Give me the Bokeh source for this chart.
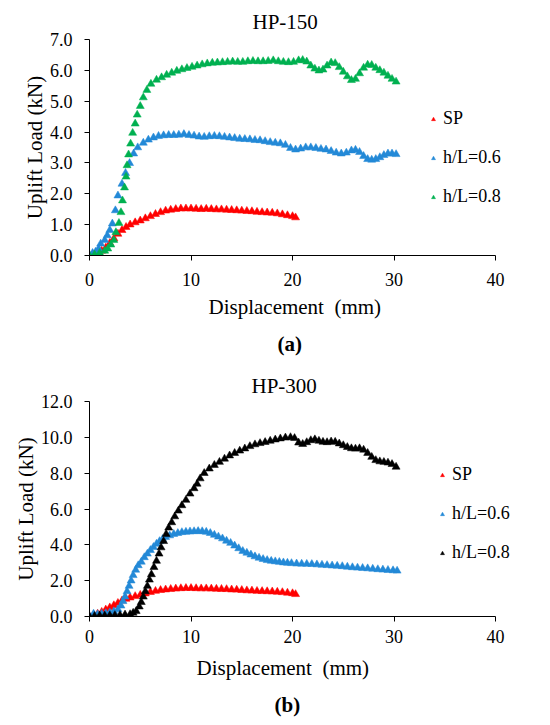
from bokeh.plotting import figure
from bokeh.models import (Legend, LegendItem, Title, SingleIntervalTicker,
                          NumeralTickFormatter, Range1d)
from bokeh.layouts import column
from bokeh.embed import file_html
from bokeh.resources import INLINE

FONT = "'Liberation Serif', 'Times New Roman', serif"

# ---------------- HP-150 ----------------
a_sp_x = [0, 0.4, 0.8, 1.2, 1.6, 2.0, 2.4, 2.8, 3.2, 3.6, 4.0, 4.5, 5.0, 5.5, 6.0, 6.5, 7.0, 7.5, 8.0, 8.5,
          9.0, 9.5, 10.0, 10.5, 11.0, 11.5, 12.0, 12.5, 13.0, 13.5, 14.0, 14.5, 15.0, 15.5, 16.0, 16.5,
          17.0, 17.5, 18.0, 18.5, 19.0, 19.5, 20.0, 20.3]
a_sp_y = [0, 0.03, 0.08, 0.15, 0.25, 0.40, 0.55, 0.70, 0.82, 0.92, 1.00, 1.07, 1.13, 1.20, 1.27, 1.34, 1.40,
          1.45, 1.48, 1.50, 1.52, 1.52, 1.52, 1.51, 1.50, 1.51, 1.50, 1.49, 1.49, 1.48, 1.47, 1.46, 1.45,
          1.44, 1.43, 1.41, 1.40, 1.39, 1.38, 1.36, 1.33, 1.30, 1.27, 1.23]

a_06_x = [0, 0.3, 0.6, 0.9, 1.1, 1.5, 1.75, 2.0, 2.25, 2.55, 2.8, 3.2, 3.55, 3.95, 4.35, 4.75, 5.3, 5.8,
          6.3, 6.8, 7.3, 7.8, 8.3, 8.8, 9.3, 9.8, 10.3, 10.8, 11.3, 11.8, 12.3, 12.8, 13.3, 13.8, 14.3,
          14.8, 15.3, 15.8, 16.3, 16.8, 17.3, 17.8, 18.3, 18.8, 19.3, 19.8, 20.3, 20.8, 21.3, 21.8, 22.3,
          22.8, 23.3, 23.8, 24.3, 24.8, 25.3, 25.8, 26.2, 26.6, 27.0, 27.4, 27.8, 28.2, 28.6, 29.0, 29.4,
          29.8, 30.2]
a_06_y = [0, 0.08, 0.12, 0.22, 0.38, 0.50, 0.65, 0.82, 1.03, 1.46, 1.94, 2.32, 2.67, 2.99, 3.30, 3.50,
          3.65, 3.75, 3.82, 3.87, 3.89, 3.90, 3.90, 3.91, 3.93, 3.90, 3.88, 3.85, 3.84, 3.86, 3.87, 3.86,
          3.84, 3.82, 3.80, 3.78, 3.77, 3.76, 3.74, 3.73, 3.70, 3.67, 3.65, 3.63, 3.58, 3.48, 3.43, 3.46,
          3.50, 3.50, 3.48, 3.45, 3.43, 3.38, 3.33, 3.30, 3.33, 3.40, 3.42, 3.35, 3.22, 3.12, 3.10, 3.12,
          3.18, 3.25, 3.30, 3.30, 3.28]

a_08_x = [0, 0.5, 1.0, 1.5, 1.8, 2.1, 2.4, 2.6, 2.9, 3.1, 3.25, 3.45, 3.6, 3.7, 3.85, 4.05, 4.25, 4.5,
          4.7, 5.0, 5.3, 5.65, 6.05, 6.6, 7.1, 7.6, 8.1, 8.6, 9.1, 9.6, 10.1, 10.6, 11.1, 11.6, 12.1,
          12.6, 13.1, 13.6, 14.1, 14.6, 15.1, 15.6, 16.1, 16.6, 17.1, 17.6, 18.1, 18.6, 19.1, 19.6, 20.1,
          20.6, 21.0, 21.4, 21.8, 22.2, 22.6, 23.0, 23.4, 23.8, 24.2, 24.6, 25.0, 25.4, 25.8, 26.2, 26.6,
          27.0, 27.4, 27.8, 28.2, 28.6, 29.0, 29.4, 29.8, 30.2]
a_08_y = [0, 0.03, 0.08, 0.15, 0.22, 0.35, 0.50, 0.75, 1.05, 1.40, 1.78, 2.20, 2.55, 2.92, 3.27, 3.62,
          3.97, 4.27, 4.56, 4.84, 5.12, 5.36, 5.56, 5.69, 5.77, 5.85, 5.92, 5.98, 6.03, 6.07, 6.11, 6.15,
          6.19, 6.22, 6.24, 6.25, 6.26, 6.27, 6.28, 6.27, 6.27, 6.29, 6.30, 6.29, 6.29, 6.30, 6.32, 6.29,
          6.27, 6.26, 6.27, 6.32, 6.33, 6.28, 6.15, 6.05, 5.99, 6.02, 6.15, 6.25, 6.23, 6.10, 5.95, 5.80,
          5.68, 5.72, 5.90, 6.08, 6.18, 6.17, 6.08, 6.00, 5.92, 5.82, 5.72, 5.63]

# ---------------- HP-300 ----------------
b_sp_x = [0, 0.4, 0.8, 1.2, 1.6, 2.0, 2.4, 2.8, 3.2, 3.6, 4.0, 4.5, 5.0, 5.5, 6.0, 6.5, 7.0, 7.5, 8.0, 8.5,
          9.0, 9.5, 10.0, 10.5, 11.0, 11.5, 12.0, 12.5, 13.0, 13.5, 14.0, 14.5, 15.0, 15.5, 16.0, 16.5,
          17.0, 17.5, 18.0, 18.5, 19.0, 19.5, 20.0, 20.3]
b_sp_y = [0, 0.08, 0.15, 0.25, 0.38, 0.50, 0.62, 0.75, 0.88, 0.98, 1.05, 1.13, 1.20, 1.28, 1.36, 1.42,
          1.47, 1.50, 1.53, 1.55, 1.57, 1.58, 1.58, 1.57, 1.56, 1.56, 1.55, 1.54, 1.53, 1.52, 1.50, 1.49,
          1.47, 1.45, 1.44, 1.42, 1.41, 1.40, 1.39, 1.37, 1.35, 1.32, 1.29, 1.24]

b_06_x = [0, 0.4, 0.8, 1.2, 1.6, 2.0, 2.4, 2.8, 3.1, 3.3, 3.5, 3.7, 3.9, 4.1, 4.3, 4.55, 4.8, 5.1, 5.4,
          5.7, 6.0, 6.3, 6.6, 6.9, 7.2, 7.5, 7.9, 8.3, 8.7, 9.1, 9.5, 9.9, 10.3, 10.7, 11.1, 11.5, 11.9,
          12.3, 12.7, 13.1, 13.5, 13.9, 14.3, 14.7, 15.1, 15.5, 15.9, 16.3, 16.7, 17.1, 17.5, 17.9, 18.3,
          18.7, 19.1, 19.5, 19.9, 20.4, 20.9, 21.4, 21.9, 22.4, 22.9, 23.4, 23.9, 24.4, 24.9, 25.4, 25.9,
          26.4, 26.9, 27.4, 27.9, 28.4, 28.9, 29.4, 29.9, 30.3]
b_06_y = [0, 0.15, 0.12, 0.15, 0.18, 0.22, 0.28, 0.40, 0.60, 0.85, 1.10, 1.40, 1.70, 2.00, 2.30, 2.60,
          2.85, 3.05, 3.30, 3.50, 3.70, 3.87, 4.05, 4.20, 4.32, 4.43, 4.52, 4.60, 4.65, 4.70, 4.72, 4.74,
          4.75, 4.76, 4.75, 4.72, 4.65, 4.55, 4.45, 4.35, 4.22, 4.10, 3.95, 3.80, 3.65, 3.55, 3.45, 3.35,
          3.27, 3.20, 3.14, 3.10, 3.07, 3.04, 3.01, 2.99, 2.97, 2.95, 2.94, 2.93, 2.92, 2.90, 2.88, 2.86,
          2.84, 2.82, 2.80, 2.77, 2.74, 2.72, 2.70, 2.68, 2.66, 2.63, 2.61, 2.59, 2.57, 2.55]

b_08_x = [0, 0.5, 1.0, 1.5, 2.0, 2.5, 3.0, 3.5, 4.0, 4.3, 4.6, 4.9, 5.1, 5.3, 5.5, 5.7, 5.9, 6.1, 6.35,
          6.6, 6.85, 7.05, 7.3, 7.55, 7.8, 8.1, 8.4, 8.75, 9.1, 9.5, 9.9, 10.3, 10.6, 10.9, 11.3, 11.8,
          12.3, 12.8, 13.3, 13.8, 14.3, 14.8, 15.3, 15.8, 16.3, 16.8, 17.3, 17.8, 18.3, 18.8, 19.3, 19.8,
          20.2, 20.6, 21.0, 21.4, 21.8, 22.2, 22.6, 23.0, 23.4, 23.8, 24.2, 24.6, 25.0, 25.4, 25.8, 26.2,
          26.6, 27.0, 27.4, 27.8, 28.2, 28.6, 29.0, 29.4, 29.8, 30.2]
b_08_y = [0, 0.02, 0.05, 0.05, 0.06, 0.07, 0.08, 0.10, 0.12, 0.20, 0.30, 0.55, 0.80, 1.10, 1.40, 1.70,
          2.05, 2.35, 2.75, 3.10, 3.50, 3.85, 4.20, 4.60, 4.95, 5.25, 5.58, 5.90, 6.20, 6.50, 6.85, 7.15,
          7.40, 7.70, 8.00, 8.25, 8.45, 8.62, 8.80, 8.98, 9.12, 9.25, 9.37, 9.50, 9.60, 9.67, 9.73, 9.80,
          9.87, 9.93, 9.98, 10.00, 9.95, 9.70, 9.62, 9.72, 9.83, 9.88, 9.80, 9.74, 9.72, 9.76, 9.74, 9.65,
          9.55, 9.45, 9.38, 9.36, 9.38, 9.30, 9.12, 8.90, 8.72, 8.65, 8.62, 8.58, 8.50, 8.35]

labels = ["SP", "h/L=0.6", "h/L=0.8"]
x_ticks = [0, 10, 20, 30, 40]
x_max = 40
x_title = "Displacement\u00a0 (mm)"
y_title = "Uplift Load (kN)"

RED = "#FF0000"
BLUE = "#2389D7"
GREEN = "#00B050"
BLACK = "#000000"

PX_PER_MM = 407 / 40.0
FRAME_W = 440
FIG_W = 534


def make(title, sub, series, colors, ymax, ystep, fig_h, bl, bt, fh, leg_loc, leg_spacing,
         t_off, xl_off, sub_off, t_so, lab_so, xl_so, sub_so):
    p = figure(output_backend="svg", toolbar_location=None,
               width=FIG_W, height=fig_h,
               min_border_left=bl, min_border_right=FIG_W - bl - FRAME_W,
               min_border_top=bt, min_border_bottom=fig_h - bt - fh,
               x_range=Range1d(0, FRAME_W / PX_PER_MM), y_range=Range1d(0, ymax))
    p.outline_line_color = None
    p.grid.visible = False
    p.background_fill_color = "white"
    p.border_fill_color = "white"

    t = Title(text=title, align="left", text_font=FONT, text_font_size="21px",
              text_font_style="normal", text_color="black", offset=t_off, standoff=t_so)
    p.add_layout(t, "above")

    for ax in (p.xaxis[0], p.yaxis[0]):
        ax.axis_line_color = "black"
        ax.major_tick_line_color = "black"
        ax.minor_tick_line_color = None
        ax.major_tick_in = 0
        ax.major_tick_out = 5
        ax.major_label_text_font = FONT
        ax.major_label_text_font_size = "18px"
        ax.major_label_text_color = "black"
        ax.axis_label_text_font = FONT
        ax.axis_label_text_font_size = "21px"
        ax.axis_label_text_font_style = "normal"
        ax.axis_label_text_color = "black"

    p.xaxis.ticker = x_ticks
    p.xaxis.bounds = (0, x_max)
    p.xaxis.formatter = NumeralTickFormatter(format="0")
    p.xaxis.major_label_standoff = lab_so
    p.yaxis.ticker = SingleIntervalTicker(interval=ystep, num_minor_ticks=0)
    p.yaxis.formatter = NumeralTickFormatter(format="0.0")
    p.yaxis.axis_label = y_title
    p.yaxis.major_label_standoff = 12
    p.yaxis.axis_label_standoff = 0

    xl = Title(text=x_title, align="left", text_font=FONT, text_font_size="21px",
               text_font_style="normal", text_color="black", offset=xl_off, standoff=xl_so)
    p.add_layout(xl, "below")
    s = Title(text=sub, align="left", text_font=FONT, text_font_size="21px",
              text_font_style="bold", text_color="black", offset=sub_off, standoff=sub_so)
    p.add_layout(s, "below")

    items = []
    for (xs, ys), c, lab in zip(series, colors, labels):
        r = p.scatter(xs, ys, marker="triangle", size=8, fill_color=c, line_color=c, line_width=0.5)
        items.append(LegendItem(label=lab, renderers=[r]))

    leg = Legend(items=items, location=leg_loc, border_line_color=None,
                 background_fill_alpha=0, label_text_font=FONT, label_text_font_size="18px",
                 label_text_color="black", glyph_width=10, glyph_height=20, label_height=20,
                 label_standoff=5, spacing=leg_spacing, padding=10, margin=0)
    p.add_layout(leg, "center")
    return p


p1 = make("HP-150", "(a)",
          [(a_sp_x, a_sp_y), (a_06_x, a_06_y), (a_08_x, a_08_y)],
          [RED, BLUE, GREEN], 7, 1.0, 367, 88, 39, 216, (339, 48), 18,
          163, 119, 188, 12, 12, 8, 15)
p2 = make("HP-300", "(b)",
          [(b_sp_x, b_sp_y), (b_06_x, b_06_y), (b_08_x, b_08_y)],
          [RED, BLUE, BLACK], 12, 2.0, 358, 89, 34, 215, (348, 53), 18,
          162, 107, 185, 7, 8, 17, 5)

layout = column(p1, p2, spacing=0)
open("out.html", "w").write(file_html(layout, INLINE))
